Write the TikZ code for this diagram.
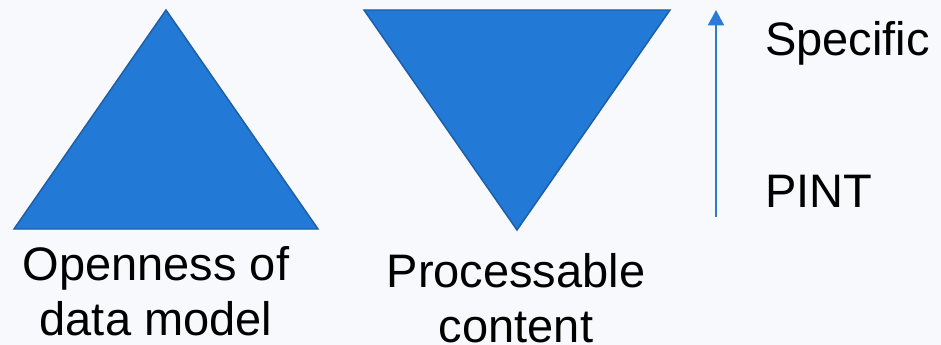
\documentclass[tikz,border=0pt]{standalone}
\usepackage{fontspec}
\setmainfont{Liberation Sans}
\usepackage{xcolor}
\usepackage{tikz}
\usetikzlibrary{arrows.meta}
\definecolor{page_bg}{HTML}{F7F9FD}
\definecolor{tri_fill}{HTML}{2279D6}
\definecolor{tri_edge}{HTML}{1D5FA6}
\definecolor{axis_blue}{HTML}{2A7BD6}

\begin{document}
\begin{tikzpicture}[
	x = 0.75pt, y = -0.75pt,
	tri/.style = {fill=tri_fill, draw=tri_edge, line width=1.1pt, line join=miter},
	caption/.style = {align=center, anchor=north, inner sep=0pt},
	scalearrow/.style = {draw=axis_blue, line width=1.5pt, -{Triangle[width=12pt, length=11.5pt]}},
]
\tikzstyle{every node}=[font=\fontsize{35.25pt}{41.25pt}\selectfont]

% Background and bounding box
\fill[page_bg] (0,0) rectangle (941,345);
\useasboundingbox (0,0) rectangle (941,345);

% Define shapes
\path[tri] (14,229) -- (166,10) -- (318,229) -- cycle;
\path[tri] (364,10) -- (670,10) -- (517,230) -- cycle;

% Define labels
\node[caption] (Openness) at (156,246) {Openness of\\data model};
\node[caption] (Processable) at (516,253) {Processable\\content};
\node[anchor=base west, inner sep=0pt] (Specific) at (765,56) {Specific};
\node[anchor=base west, inner sep=0pt] (PINT) at (765,208) {PINT};

% Draw scale arrow
\coordinate (scaleLow) at (716,217);
\coordinate (scaleHigh) at (716,10);
\draw[scalearrow] (scaleLow) -- (scaleHigh);
\end{tikzpicture}
\end{document}
